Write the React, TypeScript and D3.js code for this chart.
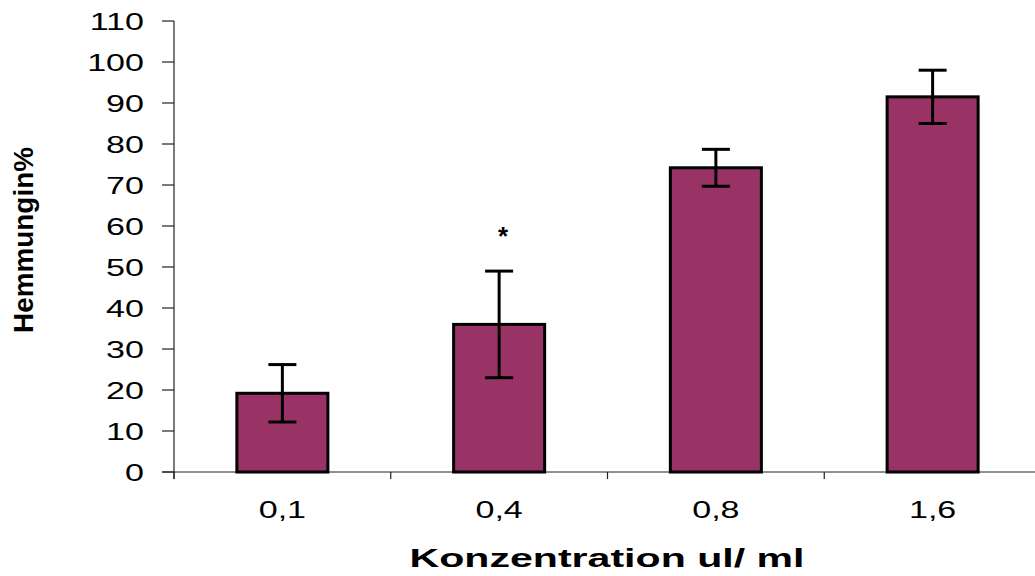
import React from "react";
import * as d3 from "d3";

const categories = ["0,1", "0,4", "0,8", "1,6"];
const means = [19.2, 36.0, 74.2, 91.5];
const errors = [7.0, 13.0, 4.5, 6.5];
const marks = ["", "*", "", ""];
const yTicks = [0, 10, 20, 30, 40, 50, 60, 70, 80, 90, 100, 110];

const W = 1035;
const H = 576;
const left = 174;
const top = 21;
const bottom = 472;
const right = 1041;

export default function App() {
  const x = d3.scaleBand<string>().domain(categories).range([left, right]).padding(0);
  const y = d3.scaleLinear().domain([0, 110]).range([bottom, top]);
  const bw = x.bandwidth() * 0.42;
  const font = "'Liberation Sans', Arial, sans-serif";
  const boundaries = categories.map((c) => x(c) as number).concat([right]);

  return (
    <svg
      width={W}
      height={H}
      style={{ position: "absolute", left: 0, top: 0, background: "#fff" }}
      fontFamily={font}
    >
      {/* y axis */}
      <line x1={left} x2={left} y1={top} y2={bottom + 7} stroke="#222" strokeWidth={1.2} />
      {yTicks.map((t) => (
        <g key={t}>
          <line x1={left - 12} x2={left} y1={y(t)} y2={y(t)} stroke="#222" strokeWidth={1.2} />
          <text
            transform={`translate(${left - 30},${y(t)}) scale(1.42,1)`}
            dy="0.36em"
            textAnchor="end"
            fontSize={24}
            fill="#000"
          >
            {t}
          </text>
        </g>
      ))}
      {/* x axis */}
      <line x1={left - 12} x2={W} y1={bottom} y2={bottom} stroke="#222" strokeWidth={1.2} />
      {boundaries.map((b, i) => (
        <line key={i} x1={b} x2={b} y1={bottom} y2={bottom + 7} stroke="#222" strokeWidth={1.2} />
      ))}
      {categories.map((c) => (
        <text
          key={c}
          transform={`translate(${(x(c) as number) + x.bandwidth() / 2},518) scale(1.42,1)`}
          textAnchor="middle"
          fontSize={24}
          fill="#000"
        >
          {c}
        </text>
      ))}
      {/* bars */}
      {categories.map((c, i) => {
        const cx = (x(c) as number) + x.bandwidth() / 2;
        return (
          <g key={c}>
            <rect
              x={cx - bw / 2}
              y={y(means[i])}
              width={bw}
              height={bottom - y(means[i])}
              fill="#993366"
              stroke="#000"
              strokeWidth={3}
            />
            <line x1={cx} x2={cx} y1={y(means[i] + errors[i])} y2={y(means[i] - errors[i])} stroke="#000" strokeWidth={3} />
            <line x1={cx - 14} x2={cx + 14} y1={y(means[i] + errors[i])} y2={y(means[i] + errors[i])} stroke="#000" strokeWidth={3} />
            <line x1={cx - 14} x2={cx + 14} y1={y(means[i] - errors[i])} y2={y(means[i] - errors[i])} stroke="#000" strokeWidth={3} />
            {marks[i] && (
              <text x={cx + 4} y={y(means[i] + errors[i]) - 26} textAnchor="middle" fontSize={26} fontWeight="bold" fill="#000">
                {marks[i]}
              </text>
            )}
          </g>
        );
      })}
      {/* axis titles */}
      <text
        x={607}
        y={567}
        textAnchor="middle"
        fontSize={25}
        fontWeight="bold"
        textLength={395}
        lengthAdjust="spacingAndGlyphs"
        fill="#000"
      >
        Konzentration ul/ ml
      </text>
      <text
        transform={`translate(33,240) rotate(-90)`}
        textAnchor="middle"
        fontSize={28}
        fontWeight="bold"
        textLength={186}
        lengthAdjust="spacingAndGlyphs"
        fill="#000"
      >
        Hemmungin%
      </text>
    </svg>
  );
}
